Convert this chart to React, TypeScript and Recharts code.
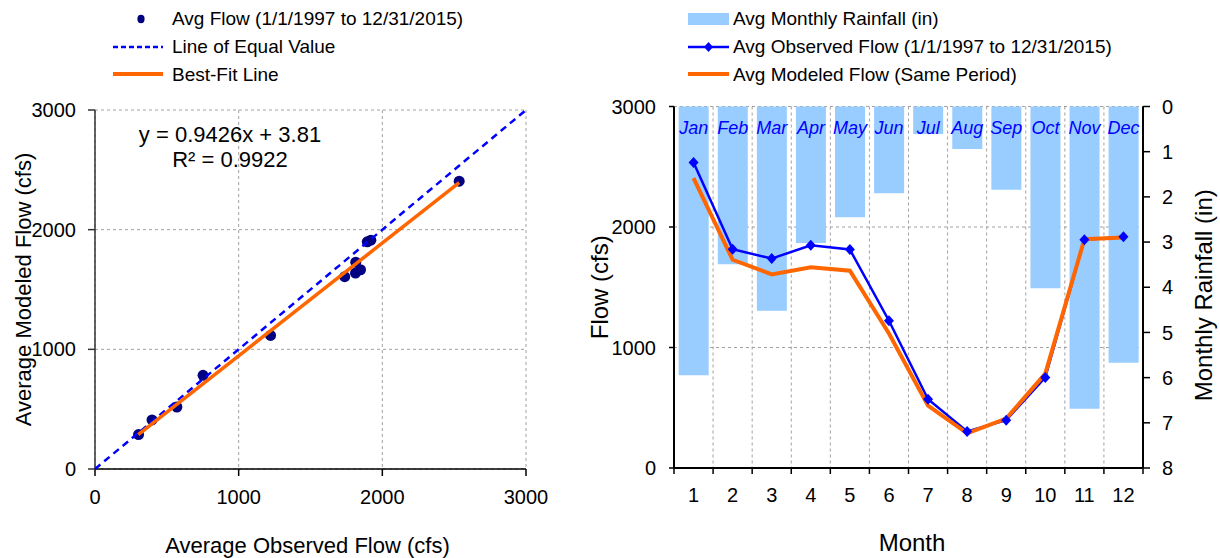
import {
  ScatterChart,
  Scatter,
  ComposedChart,
  Bar,
  Line,
  LabelList,
  XAxis,
  YAxis,
  CartesianGrid,
} from 'recharts'

const FONT = '"Liberation Sans", Arial, Helvetica, sans-serif'

const COLOR = {
  navy: '#000080',
  blue: '#0000FF',
  orange: '#FF6600',
  rain: '#99CCFF',
  grid: '#a0a0a0',
  frame: '#8c8c8c',
}

// monthly values
const months = [1, 2, 3, 4, 5, 6, 7, 8, 9, 10, 11, 12]
const monthNames = ['Jan', 'Feb', 'Mar', 'Apr', 'May', 'Jun', 'Jul', 'Aug', 'Sep', 'Oct', 'Nov', 'Dec']
const rainfallIn = [5.95, 3.49, 4.52, 3.02, 2.45, 1.92, 0.61, 0.94, 1.84, 4.02, 6.69, 5.67]
const observedCfs = [2535, 1815, 1738, 1848, 1813, 1222, 570, 303, 397, 752, 1895, 1920]
const modeledCfs = [2405, 1728, 1607, 1665, 1637, 1116, 518, 288, 410, 783, 1898, 1912]

const flowTicks = [0, 1000, 2000, 3000]
const rainTicks = [0, 1, 2, 3, 4, 5, 6, 7, 8]

const equalValueLine = [
  { x: 0, y: 0 },
  { x: 3000, y: 3000 },
]
// y = 0.9426x + 3.81 over the observed range
const bestFitLine = [
  { x: 301, y: 287 },
  { x: 2535, y: 2393 },
]

const flowPairs = observedCfs.map((obs, i) => ({ x: obs, y: modeledCfs[i] }))
const monthly = months.map((m, i) => ({
  month: m,
  name: monthNames[i],
  rain: rainfallIn[i],
  observed: observedCfs[i],
  modeled: modeledCfs[i],
}))

// right chart plot width (used for the between-category ticks / grid)
const RIGHT_CHART_W = 660
const RIGHT_AXIS_L = 114
const RIGHT_AXIS_R = 77
const BAND = (RIGHT_CHART_W - RIGHT_AXIS_L - RIGHT_AXIS_R) / 12

const axisTitle = (text: string, size: number, dx: number, dy: number, vertical = false) => ({
  content: ({ viewBox }: any) => {
    if (!viewBox) return null
    const cx = vertical ? viewBox.x + dx : viewBox.x + viewBox.width / 2 + dx
    const cy = vertical ? viewBox.y + viewBox.height / 2 + dy : viewBox.y + dy
    return (
      <text
        x={cx}
        y={cy}
        fontSize={size}
        fill="#000"
        textAnchor="middle"
        dominantBaseline="central"
        transform={vertical ? `rotate(-90 ${cx} ${cy})` : undefined}
      >
        {text}
      </text>
    )
  },
})

const tickStyle = { fontSize: 20, fill: '#000' }

function MonthTick(props: any) {
  const { x, y, payload, index } = props
  const axisY = y - 20
  return (
    <g>
      <line x1={x - BAND / 2} x2={x - BAND / 2} y1={axisY} y2={axisY + 6} stroke="#000" strokeWidth={1.5} />
      {index === months.length - 1 && (
        <line x1={x + BAND / 2} x2={x + BAND / 2} y1={axisY} y2={axisY + 6} stroke="#000" strokeWidth={1.5} />
      )}
      <text x={x} y={y} dy="0.71em" textAnchor="middle" fontSize={20} fill="#000">
        {payload.value}
      </text>
    </g>
  )
}

function renderDiamond(p: any) {
  const { cx, cy, index } = p
  if (cx == null || cy == null) return <g key={index} />
  return (
    <polygon
      key={index}
      points={`${cx},${cy - 5.5} ${cx + 5},${cy} ${cx},${cy + 5.5} ${cx - 5},${cy}`}
      fill={COLOR.blue}
    />
  )
}

function MonthLabel(p: any) {
  const { x, y, width, height, value } = p
  const top = Math.min(y, y + height)
  return (
    <text
      x={x + width / 2}
      y={top + 27}
      textAnchor="middle"
      fontSize={18}
      fontStyle="italic"
      fill={COLOR.blue}
    >
      {value}
    </text>
  )
}

type LegendItem = { label: string; icon: 'dot' | 'dash' | 'line' | 'rect' | 'diamondLine' }

function LegendIcon({ icon, w }: { icon: LegendItem['icon']; w: number }) {
  const h = 14
  const m = h / 2
  return (
    <svg width={w} height={h} style={{ display: 'block', flex: 'none' }}>
      {icon === 'dot' && <ellipse cx={28} cy={m} rx={3.6} ry={4.2} fill={COLOR.navy} />}
      {icon === 'dash' && (
        <line x1={0} x2={w} y1={m} y2={m} stroke={COLOR.blue} strokeWidth={2.5} strokeDasharray="5 3" />
      )}
      {icon === 'line' && <line x1={0} x2={w} y1={m} y2={m} stroke={COLOR.orange} strokeWidth={4} />}
      {icon === 'rect' && <rect x={0} y={1} width={w} height={12} fill={COLOR.rain} />}
      {icon === 'diamondLine' && (
        <g>
          <line x1={0} x2={w} y1={m} y2={m} stroke={COLOR.blue} strokeWidth={2.5} />
          <polygon points={`${w / 2},${m - 5} ${w / 2 + 4.5},${m} ${w / 2},${m + 5} ${w / 2 - 4.5},${m}`} fill={COLOR.blue} />
        </g>
      )}
    </svg>
  )
}

function SideLegend({ items, left, iconW, gap }: { items: LegendItem[]; left: number; iconW: number; gap: number }) {
  return (
    <div style={{ position: 'absolute', left, top: 5, fontSize: 19, lineHeight: '27.8px' }}>
      {items.map((it) => (
        <div key={it.label} style={{ display: 'flex', alignItems: 'center', height: 27.8, whiteSpace: 'nowrap' }}>
          <LegendIcon icon={it.icon} w={iconW} />
          <span style={{ marginLeft: gap }}>{it.label}</span>
        </div>
      ))}
    </div>
  )
}

const leftLegend: LegendItem[] = [
  { label: 'Avg Flow (1/1/1997 to 12/31/2015)', icon: 'dot' },
  { label: 'Line of Equal Value', icon: 'dash' },
  { label: 'Best-Fit Line', icon: 'line' },
]
const rightLegend: LegendItem[] = [
  { label: 'Avg Monthly Rainfall (in)', icon: 'rect' },
  { label: 'Avg Observed Flow (1/1/1997 to 12/31/2015)', icon: 'diamondLine' },
  { label: 'Avg Modeled Flow (Same Period)', icon: 'line' },
]

function ObservedVsModeled() {
  return (
    <ScatterChart width={600} height={558} margin={{ top: 110, right: 74, bottom: 0, left: 0 }}>
      <CartesianGrid strokeDasharray="3 3" stroke={COLOR.grid} />
      <XAxis
        type="number"
        dataKey="x"
        domain={[0, 3000]}
        ticks={flowTicks}
        height={89}
        tickSize={7}
        tickMargin={14}
        tick={tickStyle}
        axisLine={{ stroke: '#000', strokeWidth: 1.5 }}
        tickLine={{ stroke: '#000', strokeWidth: 1.5 }}
        label={axisTitle('Average Observed Flow (cfs)', 22, -3, 76)}
      />
      <YAxis
        type="number"
        dataKey="y"
        domain={[0, 3000]}
        ticks={flowTicks}
        width={95}
        tickSize={7}
        tickMargin={12}
        tick={tickStyle}
        axisLine={{ stroke: '#333', strokeWidth: 1.5 }}
        tickLine={{ stroke: '#333', strokeWidth: 1.5 }}
        label={axisTitle('Average Modeled Flow (cfs)', 22, 23, 0, true)}
      />
      <XAxis xAxisId="top" orientation="top" type="number" domain={[0, 3000]} height={0} tick={false} tickLine={false} axisLine={{ stroke: COLOR.frame, strokeWidth: 1.5 }} />
      <YAxis yAxisId="side" orientation="right" type="number" domain={[0, 3000]} width={0} tick={false} tickLine={false} axisLine={{ stroke: COLOR.frame, strokeWidth: 1.5 }} />
      <Scatter
        name="Avg Flow (1/1/1997 to 12/31/2015)"
        data={flowPairs}
        isAnimationActive={false}
        shape={(p: any) => <circle cx={p.cx} cy={p.cy} r={5.5} fill={COLOR.navy} />}
      />
      <Scatter
        name="Line of Equal Value"
        data={equalValueLine}
        isAnimationActive={false}
        line={{ stroke: COLOR.blue, strokeWidth: 2.5, strokeDasharray: '7 5' }}
        lineType="joint"
        shape={() => <g />}
      />
      <Scatter
        name="Best-Fit Line"
        data={bestFitLine}
        isAnimationActive={false}
        line={{ stroke: COLOR.orange, strokeWidth: 3.5 }}
        lineType="joint"
        shape={() => <g />}
      />
    </ScatterChart>
  )
}

function MonthlyFlowRain() {
  return (
    <ComposedChart
      width={RIGHT_CHART_W}
      height={558}
      data={monthly}
      barCategoryGap="12%"
      margin={{ top: 106.5, right: 0, bottom: 0, left: 0 }}
    >
      <CartesianGrid
        yAxisId="flow"
        strokeDasharray="3 3"
        stroke={COLOR.grid}
        verticalCoordinatesGenerator={({ offset }: any) =>
          months.slice(1).map((_, i) => offset.left + (i + 1) * (offset.width / 12))
        }
      />
      <XAxis
        dataKey="month"
        height={90}
        tickSize={6}
        tickMargin={14}
        tickLine={false}
        tick={<MonthTick />}
        interval={0}
        axisLine={{ stroke: '#000', strokeWidth: 2 }}
        label={axisTitle('Month', 24, 3.5, 74)}
      />
      <XAxis xAxisId="top" dataKey="month" orientation="top" height={0} tick={false} tickLine={false} axisLine={{ stroke: COLOR.frame, strokeWidth: 1.5 }} />
      <YAxis
        yAxisId="flow"
        domain={[0, 3000]}
        ticks={flowTicks}
        width={RIGHT_AXIS_L}
        tickSize={5}
        tickMargin={13}
        tick={tickStyle}
        axisLine={{ stroke: '#000', strokeWidth: 2 }}
        tickLine={{ stroke: '#000', strokeWidth: 1.5 }}
        label={axisTitle('Flow (cfs)', 24, 39, 0, true)}
      />
      <YAxis
        yAxisId="rain"
        orientation="right"
        domain={[0, 8]}
        ticks={rainTicks}
        reversed
        width={RIGHT_AXIS_R}
        tickSize={7}
        tickMargin={12}
        tick={tickStyle}
        axisLine={{ stroke: '#000', strokeWidth: 2 }}
        tickLine={{ stroke: '#000', strokeWidth: 1.5 }}
        label={axisTitle('Monthly Rainfall (in)', 24, 60, 8, true)}
      />
      <Bar yAxisId="rain" dataKey="rain" name="Avg Monthly Rainfall (in)" fill={COLOR.rain} isAnimationActive={false}>
        <LabelList dataKey="name" content={<MonthLabel />} />
      </Bar>
      <Line
        yAxisId="flow"
        dataKey="observed"
        name="Avg Observed Flow (1/1/1997 to 12/31/2015)"
        stroke={COLOR.blue}
        strokeWidth={2.5}
        dot={renderDiamond}
        activeDot={false}
        isAnimationActive={false}
      />
      <Line
        yAxisId="flow"
        dataKey="modeled"
        name="Avg Modeled Flow (Same Period)"
        stroke={COLOR.orange}
        strokeWidth={4}
        dot={false}
        activeDot={false}
        isAnimationActive={false}
      />
    </ComposedChart>
  )
}

export default function App() {
  return (
    <div
      style={{
        position: 'absolute',
        left: 0,
        top: 0,
        width: 1220,
        height: 558,
        background: '#fff',
        fontFamily: FONT,
        color: '#000',
        overflow: 'hidden',
      }}
    >
      <div style={{ position: 'absolute', left: 0, top: 0 }}>
        <ObservedVsModeled />
      </div>
      <div style={{ position: 'absolute', left: 130, top: 122, width: 200, textAlign: 'center', fontSize: 22, lineHeight: '25px' }}>
        <div>y = 0.9426x + 3.81</div>
        <div>R² = 0.9922</div>
      </div>
      <div style={{ position: 'absolute', left: 1220 - RIGHT_CHART_W, top: 0 }}>
        <MonthlyFlowRain />
      </div>
      <SideLegend items={leftLegend} left={113} iconW={50} gap={9} />
      <SideLegend items={rightLegend} left={688} iconW={41} gap={4} />
    </div>
  )
}
